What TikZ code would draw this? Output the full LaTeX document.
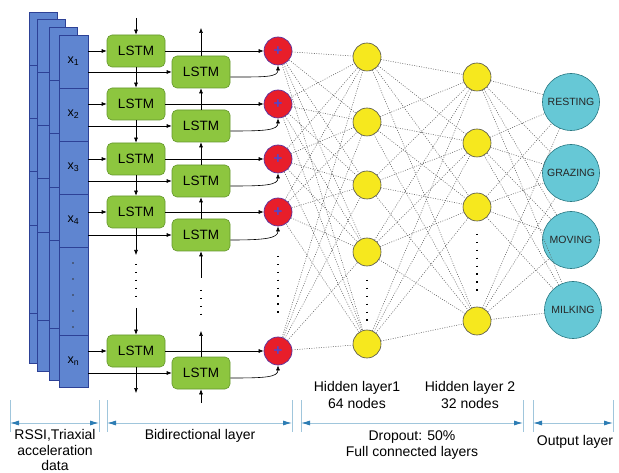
\documentclass[tikz,border=0pt]{standalone}
\usepackage{fontspec}
\setmainfont{Liberation Sans}
\usetikzlibrary{arrows.meta}
\definecolor{panelblue}{RGB}{95,133,208}
\definecolor{paneledge}{RGB}{45,65,150}
\definecolor{lstmgreen}{RGB}{141,198,63}
\definecolor{lstmedge}{RGB}{100,150,45}
\definecolor{sumred}{RGB}{232,30,42}
\definecolor{sumedge}{RGB}{90,50,160}
\definecolor{plusblue}{RGB}{85,70,200}
\definecolor{hidyellow}{RGB}{246,232,30}
\definecolor{outcyan}{RGB}{102,200,214}
\definecolor{outedge}{RGB}{40,120,130}
\definecolor{brline}{RGB}{160,198,220}
\definecolor{brtip}{RGB}{45,125,180}
\begin{document}
\begin{tikzpicture}[x=1pt,y=-1pt,
  cell/.style={draw=paneledge, fill=panelblue, line width=0.6pt, minimum width=29pt, inner sep=0pt, font=\fontsize{12.5}{14}\selectfont},
  lstm/.style={draw=lstmedge, fill=lstmgreen, rounded corners=5pt, minimum width=58pt, minimum height=32pt, inner sep=0pt, line width=0.6pt, font=\fontsize{13.5}{15}\selectfont},
  sum/.style={circle, draw=sumedge, fill=sumred, minimum size=28pt, inner sep=0pt, line width=0.7pt, text=plusblue, font=\bfseries\fontsize{15}{15}\selectfont},
  hid/.style={circle, draw=gray!60!black, fill=hidyellow, minimum size=28pt, inner sep=0pt, line width=0.6pt},
  outn/.style={circle, draw=outedge, fill=outcyan, minimum size=57pt, inner sep=0pt, line width=0.6pt, font=\fontsize{10.5}{12}\selectfont, text=black!85},
  arr/.style={-{Latex[length=5pt,width=4pt]}, line width=0.6pt},
  conn/.style={black!65, line width=0.55pt, dash pattern=on 0.9pt off 1.5pt},
  vdots/.style={line width=1.4pt, dash pattern=on 1.4pt off 6.5pt},
  brv/.style={brline, line width=0.7pt},
  bra/.style={brline, line width=0.8pt, {Latex[length=9pt,width=5pt,color=brtip]}-{Latex[length=9pt,width=5pt,color=brtip]}},
  lbl/.style={align=center, inner sep=0pt, font=\fontsize{14}{16}\selectfont}
]
\useasboundingbox (0,0) rectangle (619,473);
% stacked back panels
\draw[draw=paneledge, fill=panelblue, line width=0.6pt] (29,12) rectangle (57,363);
\foreach \y in {65,118,171,225,313} \draw[paneledge, line width=0.6pt] (29,\y) -- (57,\y);
\draw[draw=paneledge, fill=panelblue, line width=0.6pt] (37,19) rectangle (65,371);
\foreach \y in {72,125,178,232,320} \draw[paneledge, line width=0.6pt] (37,\y) -- (65,\y);
\draw[draw=paneledge, fill=panelblue, line width=0.6pt] (49,27) rectangle (77,380);
\foreach \y in {80,133,187,240,328} \draw[paneledge, line width=0.6pt] (49,\y) -- (77,\y);
% front panel cells
\node[cell, minimum height=53pt] (c1) at (73.5,61.5) {x\textsubscript{1}};
\node[cell, minimum height=53pt] (c2) at (73.5,114.5) {x\textsubscript{2}};
\node[cell, minimum height=53pt] (c3) at (73.5,167.5) {x\textsubscript{3}};
\node[cell, minimum height=53pt] (c4) at (73.5,220.5) {x\textsubscript{4}};
\node[cell, minimum height=88pt] (cd) at (73.5,291) {};
\node[cell, minimum height=52pt] (cn) at (73.5,361) {x\textsubscript{n}};
\foreach \y in {263,279,295,311,327} \fill[black!80] (73,\y) circle (0.8);
% LSTM forward
\node[lstm] (f1) at (136,51) {LSTM};
\node[lstm] (f2) at (136,104) {LSTM};
\node[lstm] (f3) at (136,159) {LSTM};
\node[lstm] (f4) at (136,212) {LSTM};
\node[lstm] (f5) at (136,351) {LSTM};
% LSTM backward
\node[lstm] (b1) at (201,72) {LSTM};
\node[lstm] (b2) at (201,126) {LSTM};
\node[lstm] (b3) at (201,181) {LSTM};
\node[lstm] (b4) at (201,235) {LSTM};
\node[lstm] (b5) at (201,373) {LSTM};
% sum nodes
\node[sum] (r1) at (278,51) {+};
\node[sum] (r2) at (278,104) {+};
\node[sum] (r3) at (278,159) {+};
\node[sum] (r4) at (278,212) {+};
\node[sum] (r5) at (278,351) {+};
% hidden layer 1
\node[hid] (h1) at (367,57) {};
\node[hid] (h2) at (367,122) {};
\node[hid] (h3) at (367,185) {};
\node[hid] (h4) at (367,252) {};
\node[hid] (h5) at (367,344) {};
% hidden layer 2
\node[hid] (g1) at (477,77) {};
\node[hid] (g2) at (477,143) {};
\node[hid] (g3) at (477,207) {};
\node[hid] (g4) at (477,321) {};
% output
\node[outn] (o1) at (571,102) {RESTING};
\node[outn] (o2) at (571,173) {GRAZING};
\node[outn] (o3) at (571,240) {MOVING};
\node[outn] (o4) at (573,310) {MILKING};
% input arrows
\foreach \c/\i in {c1/1,c2/2,c3/3,c4/4,cn/5} {
  \draw[arr] (\c.east |- f\i.west) -- (f\i.west);
  \draw[arr] (\c.east |- b\i.west) -- (b\i.west);
  \draw[arr] (f\i) -- (r\i);
  \draw[arr] ([yshift=-5pt]b\i.east) .. controls +(35,0) and +(0,12) .. (r\i.south);
}
% forward chain
\coordinate (ft) at (136,18);
\coordinate (fm) at (136,255);
\coordinate (fm2) at (136,308);
\coordinate (fb) at (136,393);
\draw[arr] (ft) -- (f1.north);
\draw[arr] (f1.south) -- (f2.north);
\draw[arr] (f2.south) -- (f3.north);
\draw[arr] (f3.south) -- (f4.north);
\draw[arr] (f4.south) -- (fm);
\draw[vdots] (136,264) -- (136,302);
\draw[arr] (fm2) -- (f5.north);
\draw[arr] (f5.south) -- (fb);
% backward chain
\coordinate (bt) at (201,28);
\coordinate (bm) at (201,278);
\coordinate (bm2) at (201,331);
\coordinate (bb) at (201,403);
\draw[arr] (b1.north) -- (bt);
\draw[arr] (b2.north) -- (b1.south);
\draw[arr] (b3.north) -- (b2.south);
\draw[arr] (b4.north) -- (b3.south);
\draw[arr] (bm) -- (b4.south);
\draw[vdots] (201,290) -- (201,320);
\draw[arr] (b5.north) -- (bm2);
\draw[arr] (bb) -- (b5.south);
% vertical dots
\draw[vdots] (278,256) -- (278,316);
\draw[vdots] (367,280) -- (367,323);
\draw[vdots] (477,234) -- (477,294);
% full connections
\foreach \a in {r1,r2,r3,r4,r5} \foreach \b in {h1,h2,h3,h4,h5} \draw[conn] (\a) -- (\b);
\foreach \a in {h1,h2,h3,h4,h5} \foreach \b in {g1,g2,g3,g4} \draw[conn] (\a) -- (\b);
\foreach \a in {g1,g2,g3,g4} \foreach \b in {o1,o2,o3,o4} \draw[conn] (\a) -- (\b);
% brackets
\foreach \x [count=\k] in {10,99,107,292,301,523,533,613} {
  \coordinate (t\k) at (\x,400);
  \coordinate (u\k) at (\x,432);
  \coordinate (m\k) at (\x,423);
  \draw[brv] (t\k) -- (u\k);
}
\draw[bra] (m1) -- (m2);
\draw[bra] (m3) -- (m4);
\draw[bra] (m5) -- (m6);
\draw[bra] (m7) -- (m8);
% labels
\node[lbl, font=\fontsize{14}{15.5}\selectfont] (l1) at (55,450) {RSSI,Triaxial\\acceleration\\data};
\node[lbl] (l2) at (200,436) {Bidirectional layer};
\node[lbl, font=\fontsize{14}{16.5}\selectfont] (l3) at (357,395) {Hidden layer1\\64 nodes};
\node[lbl, font=\fontsize{14}{16.5}\selectfont] (l4) at (470,395) {Hidden layer 2\\32 nodes};
\node[lbl, font=\fontsize{14}{15.5}\selectfont] (l5) at (412,445) {Dropout: 50\%\\Full connected layers};
\node[lbl] (l6) at (575,442) {Output layer};
\end{tikzpicture}
\end{document}
